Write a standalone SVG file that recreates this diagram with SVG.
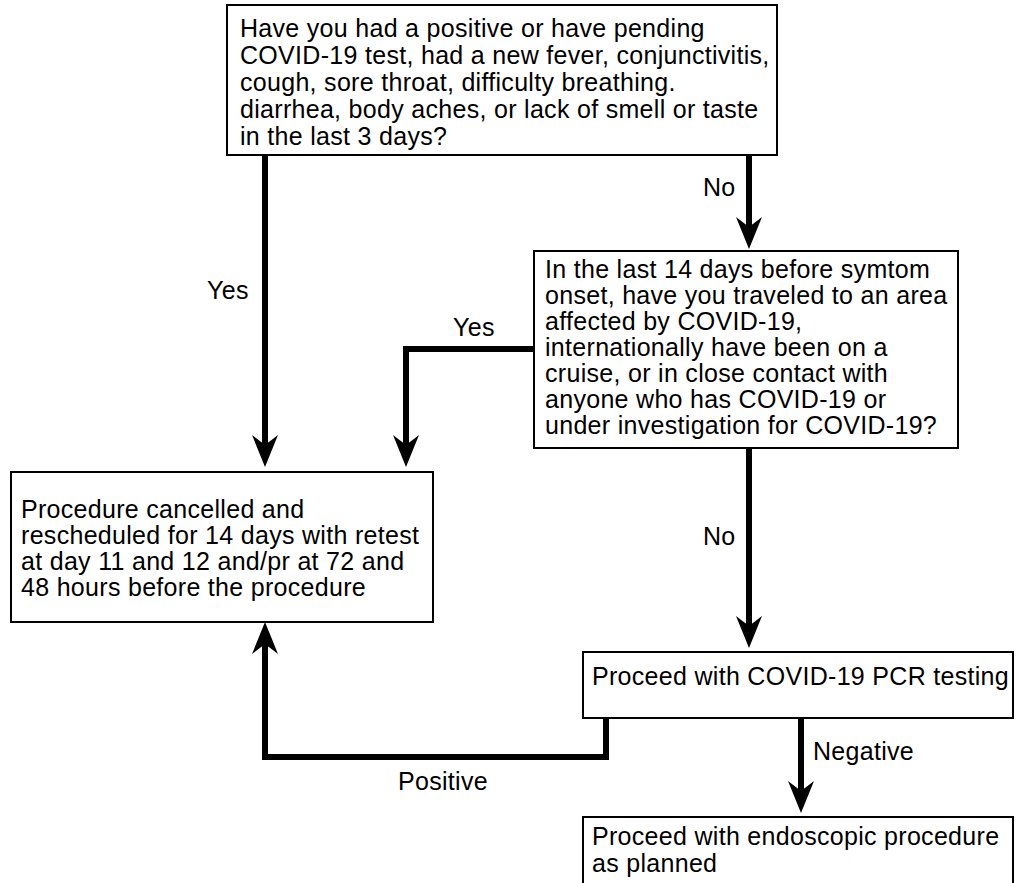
<svg xmlns="http://www.w3.org/2000/svg" width="1019" height="883" viewBox="0 0 1019 883">
<style>
.box{fill:#fff;stroke:#000;stroke-width:2}
.t{font-family:"Liberation Sans",Arial,Helvetica,sans-serif;font-size:25px;letter-spacing:0.3px;fill:#000}
.c{fill:none;stroke:#000;stroke-width:6;stroke-linejoin:miter;stroke-linecap:butt}
</style>
<defs>
<marker id="ah" viewBox="-12 -14 36 28" refX="0" refY="0" markerWidth="36" markerHeight="28" markerUnits="userSpaceOnUse" orient="auto">
<path d="M22,0 L-10,-13 L0,0 L-10,13 Z" fill="#000"/>
</marker>
</defs>
<rect width="1019" height="883" fill="#fff"/>
<g id="connectors">
<path class="c" d="M265,155 V445" marker-end="url(#ah)"/>
<path class="c" d="M749,155 V227" marker-end="url(#ah)"/>
<path class="c" d="M534,349 H406 V445" marker-end="url(#ah)"/>
<path class="c" d="M749,448 V626" marker-end="url(#ah)"/>
<path class="c" d="M606,718 V757 H265 V644" marker-end="url(#ah)"/>
<path class="c" d="M801,718 V791" marker-end="url(#ah)"/>
<text class="t" x="207" y="299">Yes</text>
<text class="t" x="703" y="196">No</text>
<text class="t" x="453" y="336">Yes</text>
<text class="t" x="703" y="545">No</text>
<text class="t" x="398" y="790">Positive</text>
<text class="t" x="813" y="760">Negative</text>
</g>
<g id="q1">
<rect class="box" x="227" y="5" width="550" height="150"/>
<text class="t" x="240" y="37">Have you had a positive or have pending</text>
<text class="t" x="240" y="64">COVID-19 test, had a new fever, conjunctivitis,</text>
<text class="t" x="240" y="91">cough, sore throat, difficulty breathing.</text>
<text class="t" x="240" y="118">diarrhea, body aches, or lack of smell or taste</text>
<text class="t" x="240" y="145">in the last 3 days?</text>
</g>
<g id="q2">
<rect class="box" x="534" y="251" width="424" height="197"/>
<text class="t" x="545" y="278">In the last 14 days before symtom</text>
<text class="t" x="545" y="304">onset, have you traveled to an area</text>
<text class="t" x="545" y="330">affected by COVID-19,</text>
<text class="t" x="545" y="356">internationally have been on a</text>
<text class="t" x="545" y="382">cruise, or in close contact with</text>
<text class="t" x="545" y="408">anyone who has COVID-19 or</text>
<text class="t" x="545" y="434">under investigation for COVID-19?</text>
</g>
<g id="cancel">
<rect class="box" x="11" y="472" width="422" height="150"/>
<text class="t" x="21" y="518">Procedure cancelled and</text>
<text class="t" x="21" y="544">rescheduled for 14 days with retest</text>
<text class="t" x="21" y="570">at day 11 and 12 and/pr at 72 and</text>
<text class="t" x="21" y="596">48 hours before the procedure</text>
</g>
<g id="pcr">
<rect class="box" x="583" y="652" width="430" height="66"/>
<text class="t" x="592" y="685">Proceed with COVID-19 PCR testing</text>
</g>
<g id="proceed">
<rect class="box" x="583" y="817" width="430" height="70"/>
<text class="t" x="592" y="845">Proceed with endoscopic procedure</text>
<text class="t" x="592" y="872">as planned</text>
</g>
</svg>
